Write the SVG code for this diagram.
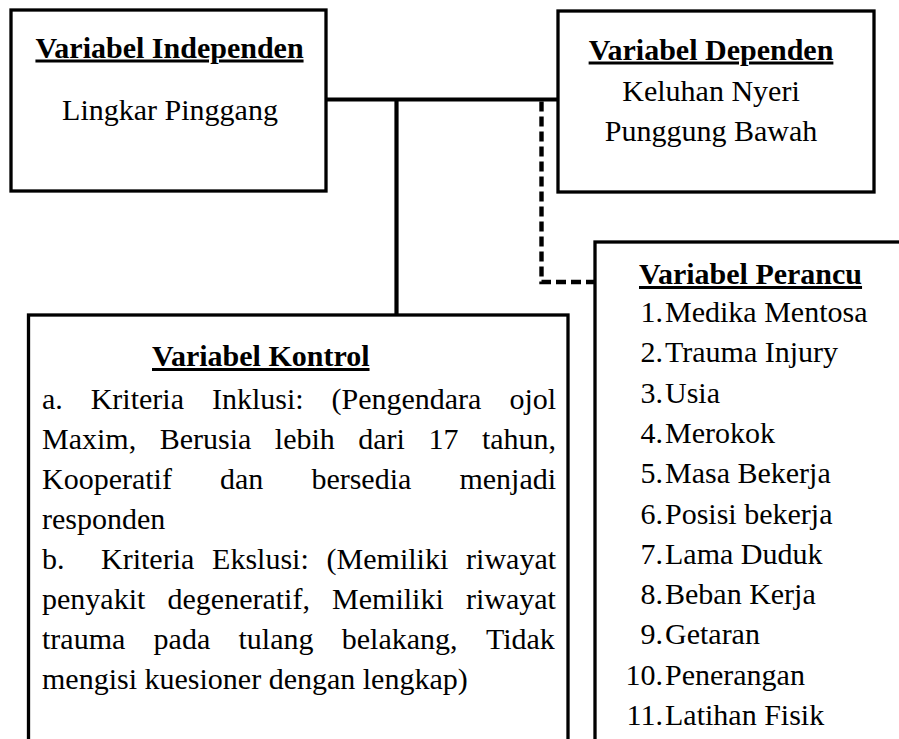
<svg xmlns="http://www.w3.org/2000/svg" width="899" height="739" viewBox="0 0 899 739">
<style>
text { font-family: "Liberation Serif", "Times New Roman", serif; font-size: 30px; fill: #000; }
.t { font-weight: bold; text-decoration: underline; }
.box { fill: #fff; stroke: #000; stroke-width: 3.3; }
.ln { fill: none; stroke: #000; stroke-width: 4.2; }
.dash { fill: none; stroke: #000; stroke-width: 4.4; stroke-dasharray: 10 5; }
.c { text-anchor: middle; }
.e { text-anchor: end; }
</style>
<rect width="899" height="739" fill="#fff"/>
<g id="connectors">
  <line class="ln" x1="326" y1="99.5" x2="558" y2="99.5"/>
  <line class="ln" x1="396.5" y1="99.5" x2="396.5" y2="315"/>
  <path class="dash" d="M541.5,101.5 V282 H595"/>
</g>
<g id="independen">
  <rect class="box" x="11" y="10" width="315" height="181"/>
  <text class="t c" x="169.5" y="57.5">Variabel Independen</text>
  <text class="c" x="170" y="119.5">Lingkar Pinggang</text>
</g>
<g id="dependen">
  <rect class="box" x="558" y="11" width="316" height="181"/>
  <text class="t c" x="711" y="59.5">Variabel Dependen</text>
  <text class="c" x="711" y="101">Keluhan Nyeri</text>
  <text class="c" x="711" y="141">Punggung Bawah</text>
</g>
<g id="perancu">
  <rect class="box" x="595" y="242" width="400" height="600"/>
  <text class="t" x="639" y="284">Variabel Perancu</text>
  <text class="e" x="663" y="322">1.</text><text x="665" y="322">Medika Mentosa</text>
  <text class="e" x="663" y="362.3">2.</text><text x="665" y="362.3">Trauma Injury</text>
  <text class="e" x="663" y="402.6">3.</text><text x="665" y="402.6">Usia</text>
  <text class="e" x="663" y="442.9">4.</text><text x="665" y="442.9">Merokok</text>
  <text class="e" x="663" y="483.2">5.</text><text x="665" y="483.2">Masa Bekerja</text>
  <text class="e" x="663" y="523.5">6.</text><text x="665" y="523.5">Posisi bekerja</text>
  <text class="e" x="663" y="563.8">7.</text><text x="665" y="563.8">Lama Duduk</text>
  <text class="e" x="663" y="604.1">8.</text><text x="665" y="604.1">Beban Kerja</text>
  <text class="e" x="663" y="644.4">9.</text><text x="665" y="644.4">Getaran</text>
  <text class="e" x="663" y="684.7">10.</text><text x="665" y="684.7">Penerangan</text>
  <text class="e" x="663" y="725">11.</text><text x="665" y="725">Latihan Fisik</text>
</g>
<g id="kontrol">
  <rect class="box" x="28.5" y="315" width="539.5" height="500"/>
  <text class="t" x="152" y="366">Variabel Kontrol</text>
  <text y="409"><tspan x="42">a.</tspan><tspan x="90.7">Kriteria</tspan><tspan x="211.9">Inklusi:</tspan><tspan x="331.5">(Pengendara</tspan><tspan x="509.4">ojol</tspan></text>
  <text y="449"><tspan x="42">Maxim,</tspan><tspan x="159.7">Berusia</tspan><tspan x="274.8">lebih</tspan><tspan x="358.3">dari</tspan><tspan x="428.4">17</tspan><tspan x="481.9">tahun,</tspan></text>
  <text y="489"><tspan x="42">Kooperatif</tspan><tspan x="220">dan</tspan><tspan x="311.4">bersedia</tspan><tspan x="459.4">menjadi</tspan></text>
  <text x="42" y="529">responden</text>
  <text y="569"><tspan x="42">b.</tspan><tspan x="101">Kriteria</tspan><tspan x="212.1">Ekslusi:</tspan><tspan x="326.6">(Memiliki</tspan><tspan x="466.1">riwayat</tspan></text>
  <text y="609"><tspan x="42">penyakit</tspan><tspan x="167.5">degeneratif,</tspan><tspan x="332.1">Memiliki</tspan><tspan x="466">riwayat</tspan></text>
  <text y="649"><tspan x="42">trauma</tspan><tspan x="153.6">pada</tspan><tspan x="238.5">tulang</tspan><tspan x="341.8">belakang,</tspan><tspan x="485.9">Tidak</tspan></text>
  <text x="42" y="689">mengisi kuesioner dengan lengkap)</text>
</g>
</svg>
